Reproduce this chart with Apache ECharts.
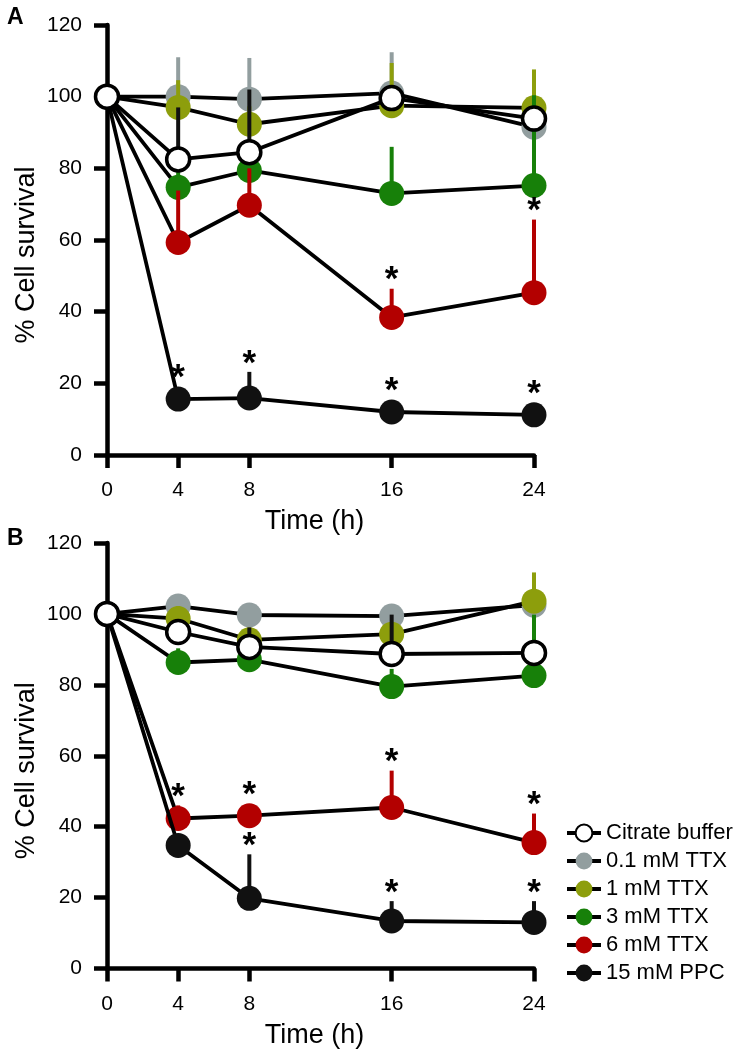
<!DOCTYPE html>
<html><head><meta charset="utf-8">
<script src="https://cdn.jsdelivr.net/npm/echarts@6/dist/echarts.min.js"></script>
<style>html,body{margin:0;padding:0;background:#fff}#c{width:738px;height:1050px}</style>
</head><body><div id="c"></div>
<script>
// ---------- data ----------
const times = [0, 4, 8, 16, 24];
const xTicks = [0, 4, 8, 16, 24];
const yMax = 120, yStep = 20;
const names = ['0.1 mM TTX', '1 mM TTX', '3 mM TTX', '6 mM TTX', '15 mM PPC', 'Citrate buffer'];
const legendOrder = ['Citrate buffer', '0.1 mM TTX', '1 mM TTX', '3 mM TTX', '6 mM TTX', '15 mM PPC'];

// Panel A : mean % survival and upper error (SEM)
const A_ttx01 = [100, 100, 99.3, 101, 91.5];
const A_ttx01_err = [0, 11, 11.5, 11.4, 4];
const A_ttx1 = [100, 97, 92.3, 97.5, 96.9];
const A_ttx1_err = [0, 7.6, 5, 11.9, 10.7];
const A_ttx3 = [100, 74.7, 79.4, 73, 75.2];
const A_ttx3_err = [0, 5, 3, 13, 25.2];
const A_ttx6 = [100, 59.3, 69.7, 38.4, 45.3];
const A_ttx6_err = [0, 14.5, 10.3, 8, 20.4];
const A_ppc = [100, 15.6, 15.9, 12.0, 11.2];
const A_ppc_err = [0, 1, 7.3, 1, 1];
const A_cit = [100, 82.5, 84.5, 99.6, 93.9];
const A_cit_err = [0, 14.5, 17.5, 2, 3];
// significance (*) flags
const A_ttx6_sig = [0, 0, 0, 1, 1];
const A_ppc_sig = [0, 1, 1, 1, 1];

// Panel B
const B_ttx01 = [100, 102.2, 99.7, 99.4, 102.5];
const B_ttx01_err = [0, 2, 2, 2, 2];
const B_ttx1 = [100, 98.7, 92.7, 94.3, 103.6];
const B_ttx1_err = [0, 3.5, 2, 2, 8.1];
const B_ttx3 = [100, 86.3, 87.1, 79.5, 82.6];
const B_ttx3_err = [0, 4, 2, 5, 17.2];
const B_ttx6 = [100, 42.3, 43.1, 45.4, 35.5];
const B_ttx6_err = [0, 3.7, 1, 10.4, 8.2];
const B_ppc = [100, 34.7, 19.8, 13.4, 13.0];
const B_ppc_err = [0, 1, 12.4, 5.6, 6];
const B_cit = [100, 94.9, 90.7, 88.7, 89];
const B_cit_err = [0, 2, 5.5, 11.1, 2];
const B_ttx6_sig = [0, 1, 1, 1, 1];
const B_ppc_sig = [0, 0, 1, 1, 1];

// ---------- styles ----------
const colors = ['#929e9f', '#8d9e0c', '#178009', '#b30000', '#111111', '#ffffff'];
const barColors = ['#929e9f', '#8d9e0c', '#178009', '#b30000', '#111111', '#111111'];
const FONT = "'Liberation Sans', Arial, Helvetica, sans-serif";

const panels = [
  {means: [A_ttx01, A_ttx1, A_ttx3, A_ttx6, A_ppc, A_cit],
   errs: [A_ttx01_err, A_ttx1_err, A_ttx3_err, A_ttx6_err, A_ppc_err, A_cit_err],
   sigs: [null, null, null, A_ttx6_sig, A_ppc_sig, null]},
  {means: [B_ttx01, B_ttx1, B_ttx3, B_ttx6, B_ppc, B_cit],
   errs: [B_ttx01_err, B_ttx1_err, B_ttx3_err, B_ttx6_err, B_ppc_err, B_cit_err],
   sigs: [null, null, null, B_ttx6_sig, B_ppc_sig, null]}
];

const grids = [
  {left: 107, right: 204, top: 25, bottom: 595},
  {left: 107, right: 204, top: 543, bottom: 80}
];

function xAxis(i) {
  return {
    type: 'value', gridIndex: i, min: 0, max: 24, interval: 4,
    axisLine: {show: true, lineStyle: {color: '#000', width: 4.5}},
    axisTick: {show: true, length: 13, lineStyle: {color: '#000', width: 4.5}, customValues: xTicks},
    axisLabel: {fontSize: 21, color: '#000', fontFamily: FONT, margin: 25, customValues: xTicks},
    splitLine: {show: false},
    name: 'Time (h)', nameLocation: 'middle', nameGap: 67, nameMoveOverlap: false,
    nameTextStyle: {fontSize: 27, color: '#000', fontFamily: FONT, verticalAlign: 'middle',
                    padding: [0, 12, 0, 0]}
  };
}
function yAxis(i) {
  return {
    type: 'value', gridIndex: i, min: 0, max: yMax, interval: yStep,
    axisLine: {show: true, lineStyle: {color: '#000', width: 4.5}},
    axisTick: {show: true, length: 13, lineStyle: {color: '#000', width: 4.5}},
    axisLabel: {fontSize: 21, color: '#000', fontFamily: FONT, margin: 25},
    splitLine: {show: false},
    name: '% Cell survival', nameLocation: 'middle', nameGap: 80, nameMoveOverlap: false,
    nameTextStyle: {fontSize: 27, color: '#000', fontFamily: FONT, verticalAlign: 'middle',
                    padding: [0, 30, 0, 0]}
  };
}

const series = [];
panels.forEach((p, pi) => {
  p.means.forEach((m, si) => {
    const err = p.errs[si];
    // error bars
    series.push({
      type: 'custom', name: 'err' + pi + si, xAxisIndex: pi, yAxisIndex: pi, z: 2 + si,
      silent: true,
      data: times.map((t, k) => [t, m[k], err[k]]),
      renderItem: (params, api) => {
        const a = api.coord([api.value(0), api.value(1)]);
        const b = api.coord([api.value(0), api.value(1) + api.value(2)]);
        return {type: 'line', shape: {x1: a[0], y1: a[1], x2: b[0], y2: b[1]},
                style: {stroke: barColors[si], lineWidth: 4}};
      }
    });
    // line + markers
    const isCit = si === 5;
    series.push({
      type: 'line', name: names[si], xAxisIndex: pi, yAxisIndex: pi, z: 2 + si,
      data: times.map((t, k) => [t, m[k]]),
      symbol: 'circle', symbolSize: isCit ? 23 : 25, showSymbol: true,
      lineStyle: {color: '#000', width: 3.8},
      itemStyle: isCit ? {color: '#fff', borderColor: '#000', borderWidth: 3.5}
                       : {color: colors[si], borderWidth: 0},
      emphasis: {disabled: true}
    });
    // significance stars
    if (p.sigs[si]) {
      const sig = p.sigs[si];
      series.push({
        type: 'custom', name: 'sig' + pi + si, xAxisIndex: pi, yAxisIndex: pi, z: 20, silent: true,
        data: times.map((t, k) => [t, m[k], err[k]]).filter((d, k) => sig[k]),
        renderItem: (params, api) => {
          const c = api.coord([api.value(0), api.value(1)]);
          const b = api.coord([api.value(0), api.value(1) + api.value(2)]);
          const top = Math.min(b[1], c[1] - 12.5);
          return {type: 'text', x: c[0], y: top - 16 + 8,
                  style: {text: '*', font: 'bold 35px ' + FONT, fill: '#000',
                          align: 'center', verticalAlign: 'middle'}};
        }
      });
    }
  });
});

const chart = echarts.init(document.getElementById('c'), null, {renderer: 'canvas'});
chart.setOption({
  animation: false,
  backgroundColor: '#fff',
  textStyle: {fontFamily: FONT},
  title: [
    {text: 'A', left: 2, top: 1, textStyle: {fontSize: 23, fontWeight: 'bold', color: '#000', fontFamily: FONT}},
    {text: 'B', left: 2, top: 522, textStyle: {fontSize: 23, fontWeight: 'bold', color: '#000', fontFamily: FONT}}
  ],
  grid: grids,
  xAxis: [xAxis(0), xAxis(1)],
  yAxis: [yAxis(0), yAxis(1)],
  legend: {
    data: legendOrder, orient: 'vertical', left: 565, top: 822, padding: 0,
    itemWidth: 34, itemHeight: 21, itemGap: 6, selectedMode: false,
    lineStyle: {width: 4, color: '#000'},
    textStyle: {fontSize: 22, color: '#000', fontFamily: FONT}
  },
  series: series
});
</script>
</body></html>
